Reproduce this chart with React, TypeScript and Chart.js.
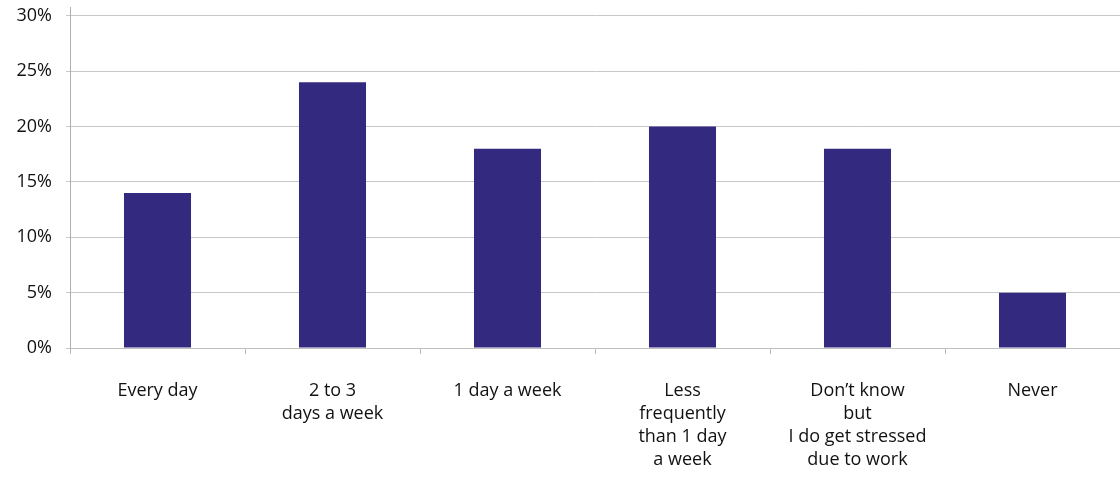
import React, { useEffect, useRef } from "react";
import { Chart, registerables } from "chart.js";

Chart.register(...registerables);

const categories: string[][] = [
  ["Every day"],
  ["2 to 3", "days a week"],
  ["1 day a week"],
  ["Less", "frequently", "than 1 day", "a week"],
  ["Don\u2019t know", "but", "I do get stressed", "due to work"],
  ["Never"],
];
const values: number[] = [14, 24, 18, 20, 18, 5];
const yTicks: number[] = [0, 5, 10, 15, 20, 25, 30];

export default function App() {
  const ref = useRef<HTMLCanvasElement | null>(null);
  useEffect(() => {
    if (!ref.current) return;
    const font = { family: "'Open Sans', Lato, sans-serif", size: 18 };
    const chart = new Chart(ref.current, {
      type: "bar",
      data: {
        labels: categories,
        datasets: [
          {
            data: values,
            backgroundColor: "#332A80",
            barPercentage: 0.383,
            categoryPercentage: 1,
          },
        ],
      },
      options: {
        animation: false,
        responsive: false,
        layout: { padding: { top: 7, right: 0, left: 0, bottom: 0 } },
        plugins: { legend: { display: false }, tooltip: { enabled: false } },
        scales: {
          x: {
            offset: true,
            grid: {
              offset: true,
              drawOnChartArea: false,
              color: "#b8b8b8",
              tickLength: 6,
            },
            border: { color: "#c0c0c0" },
            ticks: {
              color: "#111",
              font: { ...font, lineHeight: 1.28 },
              padding: 25,
              maxRotation: 0,
              autoSkip: false,
            },
            afterFit: (s: any) => {
              s.height = 132;
              s.paddingLeft = 0;
              s.paddingRight = 0;
            },
          },
          y: {
            min: 0,
            max: 30.8,
            afterBuildTicks: (s: any) => {
              s.ticks = yTicks.map((v) => ({ value: v }));
            },
            grid: { color: "#c8c8c8", tickLength: 4 },
            border: { color: "#b0b0b0" },
            ticks: {
              color: "#111",
              font,
              padding: 14,
              callback: (v: any) => v + "%",
            },
            afterFit: (s: any) => {
              s.width = 70;
              s.paddingTop = 0;
              s.paddingBottom = 0;
            },
          },
        },
      },
    });
    return () => chart.destroy();
  }, []);
  return (
    <div style={{ position: "absolute", left: 0, top: 0, width: 1120, height: 480, background: "#fff" }}>
      <canvas ref={ref} width={1120} height={480} />
    </div>
  );
}
